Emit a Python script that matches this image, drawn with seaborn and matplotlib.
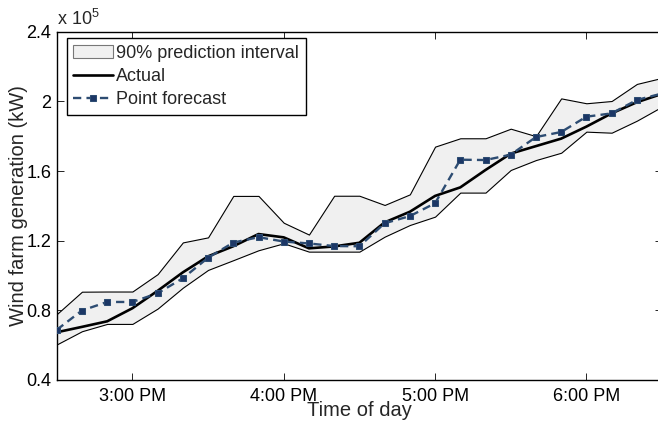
import numpy as np
import pandas as pd
import matplotlib
matplotlib.use("Agg")
import matplotlib.pyplot as plt
import matplotlib.dates as mdates
import seaborn as sns

# ---- data (kW) ----
times = pd.date_range("2013-01-01 14:30", periods=25, freq="10min")
actual = [67400, 70500, 73700, 81200, 91200, 101800, 111000, 116800, 123800, 121900,
          115600, 116700, 118800, 130500, 136600, 145700, 150600, 160600, 170000, 174300,
          178600, 185500, 193100, 199500, 204300]
forecast = [68800, 79900, 84800, 84800, 89800, 98400, 110200, 118900, 122000, 119500,
            118400, 116900, 116800, 130000, 134100, 141500, 166500, 166300, 169400, 179500,
            182400, 191200, 193100, 200800, 204500]
upper = [77800, 90700, 90800, 90800, 100800, 119000, 121900, 145700, 145700, 130300,
         123500, 145800, 145800, 140500, 146600, 174000, 178800, 178800, 184300, 180000,
         201700, 198900, 200200, 210000, 213500]
lower = [60400, 68000, 72200, 72200, 81000, 93000, 103200, 108800, 114500, 118500,
         113700, 113700, 113700, 122300, 129000, 133800, 147600, 147600, 160600, 166300,
         170500, 182600, 182000, 188900, 197000]
ytick_vals = [40000, 80000, 120000, 160000, 200000, 240000]
ytick_labels = ["0.4", "0.8", "1.2", "1.6", "2", "2.4"]

df = pd.DataFrame({"time": times, "actual": actual, "forecast": forecast,
                   "upper": upper, "lower": lower})

sns.set_style("ticks")
plt.rcParams["font.family"] = ["Liberation Sans", "DejaVu Sans"]
plt.rcParams["mathtext.fontset"] = "custom"
plt.rcParams["mathtext.rm"] = "Liberation Sans"

fig = plt.figure(figsize=(6.58, 4.26), dpi=100)
ax = fig.add_axes([0.0862, 0.108, 0.92, 0.8176])

ax.fill_between(df["time"], df["lower"], df["upper"], facecolor="#f0f0f0",
                edgecolor="black", linewidth=0.8, label="90% prediction interval", zorder=1)
sns.lineplot(data=df, x="time", y="actual", ax=ax, color="black", linewidth=1.9,
             label="Actual", zorder=3)
sns.lineplot(data=df, x="time", y="forecast", ax=ax, color="#2d4c72", linewidth=1.7,
             marker="s", markersize=5, markerfacecolor="#1c3766",
             markeredgecolor="#2d4c72", label="Point forecast", zorder=4)
ax.lines[-1].set_linestyle((0, (3.5, 2.2)))

ax.set_xlim(pd.Timestamp("2013-01-01 14:30"), pd.Timestamp("2013-01-01 18:30"))
ax.set_ylim(40000, 240000)
ax.set_yticks(ytick_vals)
ax.set_yticklabels(ytick_labels)
ax.xaxis.set_major_locator(mdates.HourLocator(byhour=[15, 16, 17, 18]))
ax.xaxis.set_major_formatter(mdates.DateFormatter("%-I:%M %p"))

ax.tick_params(direction="in", top=True, right=True, length=5, width=0.6,
               labelsize=13, colors="black")
ax.tick_params(axis="x", pad=6)
ax.tick_params(axis="y", pad=4)
for s in ["left", "bottom", "top"]:
    ax.spines[s].set_linewidth(1.0)
    ax.spines[s].set_color("black")
ax.spines["right"].set_visible(False)

ax.set_xlabel("Time of day", fontsize=14.5, labelpad=-3)
ax.set_ylabel("Wind farm generation (kW)", fontsize=14.5, labelpad=-1)
ax.text(0.0, 1.008, r"x 10$^{5}$", transform=ax.transAxes, ha="left", va="bottom",
        fontsize=13)

leg = ax.legend(loc="upper left", bbox_to_anchor=(0.0165, 0.981), borderaxespad=0,
                fontsize=13, frameon=True, fancybox=False, framealpha=1,
                edgecolor="black", handlelength=2.2, handletextpad=0.2,
                labelspacing=0.35, borderpad=0.35, numpoints=1)
leg.get_frame().set_linewidth(1.0)
leg.legend_handles[0].set_edgecolor("#777777")

fig.savefig("out.png", dpi=100)
